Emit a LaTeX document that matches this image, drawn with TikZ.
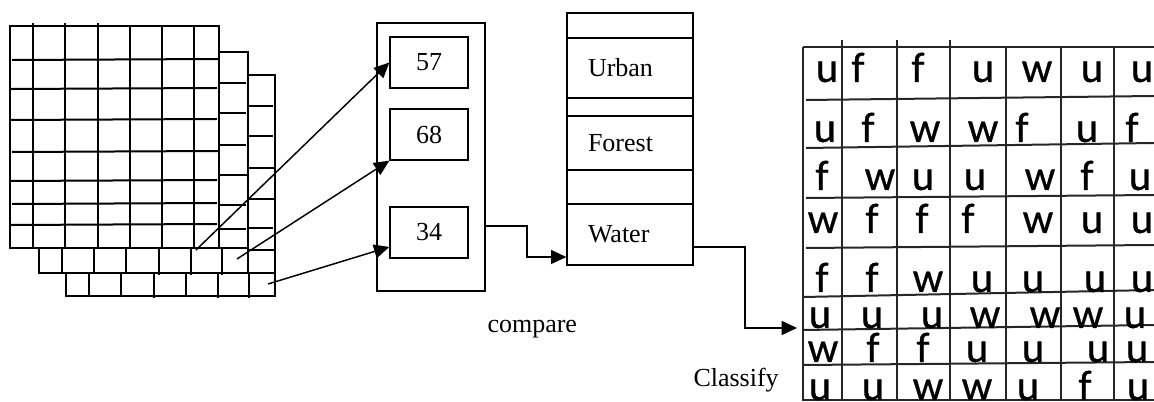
\documentclass[tikz,border=0pt]{standalone}
\usepackage{fontspec}
\setmainfont{Liberation Serif}
\newfontfamily\mapfont[FakeBold=0.6]{Carlito}
\usetikzlibrary{arrows.meta}

\tikzset{every picture/.style={line width=0.75pt}}
\tikzset{
  sheet/.style={line width=1.5pt},
  mapline/.style={line width=1.5pt, black!85},
  valbox/.style={draw, line width=1pt, minimum width=58.5pt, minimum height=38.25pt, inner sep=0pt, font=\fontsize{19.5}{22}\selectfont},
  classbox/.style={draw, line width=1pt, text width=63pt, inner xsep=15.75pt, inner ysep=0pt, align=left, font=\fontsize{19.5}{22}\selectfont},
  flow/.style={line width=1.1pt, -{Triangle[length=11.5pt,width=10.5pt]}},
  mapcell/.style={anchor=base, inner sep=0pt, font=\mapfont\fontsize{32}{36}\selectfont},
  note/.style={anchor=base west, inner sep=0pt, font=\fontsize{19.5}{22}\selectfont}
}

\begin{document}
\begin{tikzpicture}[x=0.75pt,y=0.75pt,yscale=-1,xscale=1]
\useasboundingbox (0,0) rectangle (1154,402);

%Shape: Grid [front band]
\draw[sheet] (10,26) rectangle (219,248);
\draw[sheet] (33,23) -- (33,248) (65,23) -- (65,248) (98,23) -- (98,248) (130,26) -- (130,248) (162,26) -- (162,248) (194,26) -- (194,248);
\draw[sheet] (12,60) -- (219,59) (10,89) -- (217,88) (10,120) -- (217,119) (12,152) -- (219,151) (10,181) -- (217,180) (12,204) -- (217,203) (10,225) -- (217,224);
%Shape: Grid [second band]
\draw[sheet] (219,52) -- (248,52) -- (248,273) -- (39,273) -- (39,248) -- (248,248);
\draw[sheet] (219,83) -- (246,83) (219,113) -- (246,113) (219,145) -- (246,145) (219,175) -- (248,175) (219,205) -- (246,205) (219,229) -- (246,229);
\draw[sheet] (62,248) -- (62,273) (94,248) -- (94,273) (126,248) -- (126,273) (159,248) -- (159,275) (191,248) -- (191,275) (222,248) -- (222,275);
%Shape: Grid [third band]
\draw[sheet] (248,75) -- (275,75) -- (275,296) -- (66,296) -- (66,273) -- (275,273);
\draw[sheet] (248,106) -- (273,106) (248,136) -- (273,136) (248,168) -- (275,168) (248,199) -- (275,199) (248,228) -- (273,228) (248,250) -- (275,250);
\draw[sheet] (89,273) -- (89,296) (121,273) -- (121,296) (154,273) -- (154,298) (186,273) -- (186,296) (218,273) -- (218,298) (249,273) -- (249,298);

% pixel picks
\coordinate (px1) at (196,250);
\coordinate (px2) at (237,259);
\coordinate (px3) at (268,284);

%Shape: Rectangle [feature column]
\node[draw, line width=1pt, minimum width=81pt, minimum height=201pt, inner sep=0pt] (featcol) at (431,157) {};
% Text Node
\node[valbox] (v57) at (429,62.5) {57};
% Text Node
\node[valbox] (v68) at (429,134.5) {68};
% Text Node
\node[valbox] (v34) at (429,232.5) {34};

%Shape: Rectangle [class column]
\node[draw, line width=1pt, minimum width=94.5pt, minimum height=189pt, inner sep=0pt] (classcol) at (630,139) {};
% Text Node
\node[classbox, minimum height=45pt] (urban) at (630,68) {Urban};
% Text Node
\node[classbox, minimum height=40.5pt] (forest) at (630,143) {Forest};
% Text Node
\node[classbox, minimum height=45.75pt] (water) at (630,234.5) {Water};

%Straight Lines
\draw[flow] (px1) -- (v57.west);
\draw[flow] (px2) -- (v68.south west);
\draw[flow] (px3) -- (v34.200);

% Connection
\draw[flow] (featcol.east |- 0,226) -| (527,257) -- (water.west |- 0,257);
% Connection
\coordinate (mapin) at (797,328);
\draw[flow] (water.east |- 0,247) -| (745,328) -- (mapin);

% Text Node
\node[note] (cmp) at (487,333) {compare};
% Text Node
\node[note] (cls) at (693,387) {Classify};

%Shape: Grid [class map]
\draw[mapline] (803,47) -- (1154,47) (803,47) -- (803,400) -- (1154,400);
\draw[mapline] (842,40) -- (842,400) (897,40) -- (897,400) (950,40) -- (950,400) (1006,47) -- (1006,400) (1061,47) -- (1061,400) (1114,47) -- (1114,400);
\draw[mapline] (806,100) -- (1154,96) (806,148) -- (1154,143) (806,198) -- (1154,195) (806,248) -- (1154,245) (803,297) -- (1154,290) (803,330) -- (1154,325) (803,365) -- (1154,362);

% Text Node
\path (827,82) node[mapcell] (m11) {u} (858,82) node[mapcell] (m12) {f} (918,82) node[mapcell] (m13) {f} (983,82) node[mapcell] (m14) {u} (1037,82) node[mapcell] (m15) {w} (1092,82) node[mapcell] (m16) {u} (1142,82) node[mapcell] (m17) {u};
% Text Node
\path (825,142) node[mapcell] (m21) {u} (868,142) node[mapcell] (m22) {f} (925,142) node[mapcell] (m23) {w} (983,142) node[mapcell] (m24) {w} (1022,142) node[mapcell] (m25) {f} (1087,142) node[mapcell] (m26) {u} (1132,142) node[mapcell] (m27) {f};
% Text Node
\path (822,190) node[mapcell] (m31) {f} (880,190) node[mapcell] (m32) {w} (923,190) node[mapcell] (m33) {u} (975,190) node[mapcell] (m34) {u} (1040,190) node[mapcell] (m35) {w} (1087,190) node[mapcell] (m36) {f} (1140,190) node[mapcell] (m37) {u};
% Text Node
\path (823,233) node[mapcell] (m41) {w} (872,233) node[mapcell] (m42) {f} (922,233) node[mapcell] (m43) {f} (968,233) node[mapcell] (m44) {f} (1038,233) node[mapcell] (m45) {w} (1092,233) node[mapcell] (m46) {u} (1142,233) node[mapcell] (m47) {u};
% Text Node
\path (822,292) node[mapcell] (m51) {f} (872,292) node[mapcell] (m52) {f} (928,292) node[mapcell] (m53) {w} (982,292) node[mapcell] (m54) {u} (1033,292) node[mapcell] (m55) {u} (1095,292) node[mapcell] (m56) {u} (1142,292) node[mapcell] (m57) {u};
% Text Node
\path (820,328) node[mapcell] (m61) {u} (872,328) node[mapcell] (m62) {u} (932,328) node[mapcell] (m63) {u} (985,328) node[mapcell] (m64) {w} (1045,328) node[mapcell] (m65) {w} (1088,328) node[mapcell] (m66) {w} (1135,328) node[mapcell] (m67) {u};
% Text Node
\path (823,362) node[mapcell] (m71) {w} (873,362) node[mapcell] (m72) {f} (923,362) node[mapcell] (m73) {f} (977,362) node[mapcell] (m74) {u} (1033,362) node[mapcell] (m75) {u} (1098,362) node[mapcell] (m76) {u} (1137,362) node[mapcell] (m77) {u};
% Text Node
\path (820,400) node[mapcell] (m81) {u} (873,400) node[mapcell] (m82) {u} (928,400) node[mapcell] (m83) {w} (977,400) node[mapcell] (m84) {w} (1028,400) node[mapcell] (m85) {u} (1085,400) node[mapcell] (m86) {f} (1138,400) node[mapcell] (m87) {u};

\end{tikzpicture}
\end{document}
